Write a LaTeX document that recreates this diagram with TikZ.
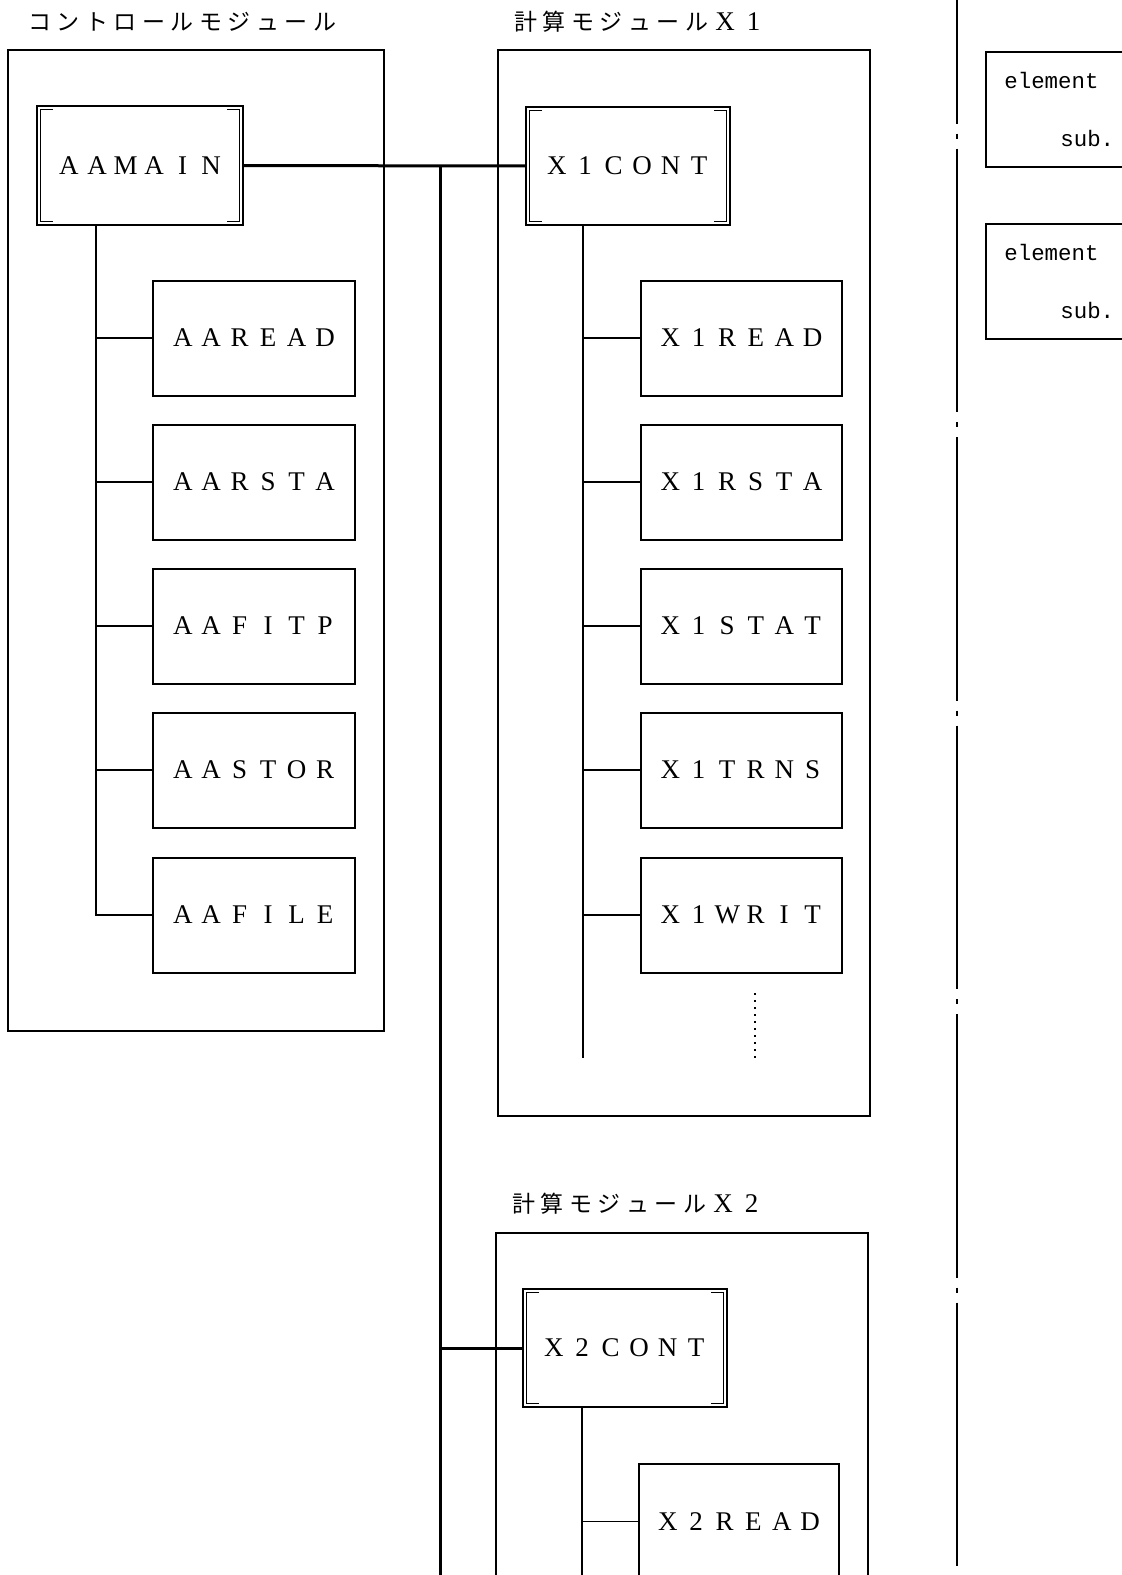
\documentclass[tikz,border=0pt]{standalone}
\usepackage{fontspec}
\setmainfont{Liberation Serif}
\newfontfamily\jpfont{Noto Sans CJK JP}
\newfontfamily\elemfont{Liberation Mono}
\makeatletter
\newcommand\pitchtext[1]{\@tfor\pt@ch:=#1\do{\makebox[14.25pt]{\pt@ch}}}
\makeatother

\begin{document}
\begin{tikzpicture}[x=0.5pt, y=-0.5pt,
    frame/.style={line width=0.8pt},
    tree/.style={line width=0.6pt},
    bus/.style={line width=1.5pt},
    title/.style={anchor=west, inner sep=0pt, font=\jpfont\fontsize{11.5}{13}\selectfont},
    subbox/.style={draw, line width=1pt, inner sep=0pt, minimum width=101pt, minimum height=57.5pt,
        font=\fontsize{13.5}{14}\selectfont},
    ctrlbox/.style={subbox, minimum width=103pt, minimum height=59.5pt,
        path picture={
            \draw[line width=0.6pt]
                ([xshift=8pt,yshift=-1.75pt]path picture bounding box.north west)
                -| ([xshift=1.75pt,yshift=1.75pt]path picture bounding box.south west) -- ++(6.25pt,0);
            \draw[line width=0.6pt]
                ([xshift=-8pt,yshift=-1.75pt]path picture bounding box.north east)
                -| ([xshift=-1.75pt,yshift=1.75pt]path picture bounding box.south east) -- ++(-6.25pt,0);
        }},
    elembox/.style={draw, frame, anchor=north west, minimum width=80pt, minimum height=57.5pt},
    elemtext/.style={anchor=base west, inner sep=0pt, font=\elemfont\fontsize{11.2}{12}\selectfont},
    sepline/.style={line width=1.4pt, dash pattern=on 131.75pt off 5pt on 2.5pt off 5pt, dash phase=70pt}]
    \useasboundingbox (0,0) rectangle (1122,1575);
    \clip (0,0) rectangle (1122,1575);

    % control module
    \node[title] (ctrltitle) at (25,22) {\pitchtext{コントロールモジュール}};
    \draw[frame] (8,50) rectangle (384,1031);
    \node[ctrlbox] (aamain) at (140,165.5) {\pitchtext{AAMAIN}};
    \node[subbox] (aaread) at (254,338) {\pitchtext{AAREAD}};
    \node[subbox] (aarsta) at (254,482) {\pitchtext{AARSTA}};
    \node[subbox] (aafitp) at (254,626) {\pitchtext{AAFITP}};
    \node[subbox] (aastor) at (254,770) {\pitchtext{AASTOR}};
    \node[subbox] (aafile) at (254,915) {\pitchtext{AAFILE}};
    \coordinate (atrunk) at (96,225);
    \draw[tree] (atrunk) |- (aafile);
    \draw[tree] (atrunk |- aaread) -- (aaread);
    \draw[tree] (atrunk |- aarsta) -- (aarsta);
    \draw[tree] (atrunk |- aafitp) -- (aafitp);
    \draw[tree] (atrunk |- aastor) -- (aastor);

    % module X1
    \node[title] (x1title) at (511,22) {\pitchtext{計算モジュール}{\rmfamily\fontsize{13.5}{14}\selectfont\pitchtext{X1}}};
    \draw[frame] (498,50) rectangle (870,1116);
    \node[ctrlbox, minimum width=102pt, minimum height=59pt] (x1cont) at (628,166) {\pitchtext{X1CONT}};
    \node[subbox, minimum width=100.5pt] (x1read) at (741.5,338) {\pitchtext{X1READ}};
    \node[subbox, minimum width=100.5pt] (x1rsta) at (741.5,482) {\pitchtext{X1RSTA}};
    \node[subbox, minimum width=100.5pt] (x1stat) at (741.5,626) {\pitchtext{X1STAT}};
    \node[subbox, minimum width=100.5pt] (x1trns) at (741.5,770) {\pitchtext{X1TRNS}};
    \node[subbox, minimum width=100.5pt] (x1writ) at (741.5,915) {\pitchtext{X1WRIT}};
    \coordinate (x1trunk) at (583,225);
    \coordinate (x1end) at (583,1058);
    \draw[tree] (x1trunk) -- (x1end);
    \draw[tree] (x1trunk |- x1read) -- (x1read);
    \draw[tree] (x1trunk |- x1rsta) -- (x1rsta);
    \draw[tree] (x1trunk |- x1stat) -- (x1stat);
    \draw[tree] (x1trunk |- x1trns) -- (x1trns);
    \draw[tree] (x1trunk |- x1writ) -- (x1writ);
    \coordinate (more1) at (755,993);
    \coordinate (more2) at (755,1058);
    \draw[tree, dash pattern=on 1pt off 2.5pt] (more1) -- (more2);

    % module X2
    \node[title] (x2title) at (509,1204) {\pitchtext{計算モジュール}{\rmfamily\fontsize{13.5}{14}\selectfont\pitchtext{X2}}};
    \draw[frame] (496,1233) rectangle (868,1600);
    \node[ctrlbox, minimum width=102pt, minimum height=59pt] (x2cont) at (625,1348) {\pitchtext{X2CONT}};
    \node[subbox, minimum width=100pt] (x2read) at (739,1521.5) {\pitchtext{X2READ}};
    \coordinate (x2trunk) at (582,1407);
    \coordinate (x2end) at (582,1600);
    \draw[tree] (x2trunk) -- (x2end);
    \draw[tree] (x2trunk |- x2read) -- (x2read);

    % bus between modules
    \draw[bus] (aamain) -- (x1cont);
    \coordinate (busj) at (440,165.5);
    \coordinate (busend) at (440,1600);
    \draw[bus] (busj) -- (busend);
    \draw[bus] (busj |- x2cont) -- (x2cont);

    % legend
    \coordinate (septop) at (957,0);
    \coordinate (sepbot) at (957,1575);
    \draw[sepline] (septop) -- (sepbot);
    \node[elembox] (elem1) at (985,51) {};
    \node[elemtext] (elem1a) at (1004,88) {element};
    \node[elemtext] (elem1b) at (1060,146) {sub.};
    \node[elembox] (elem2) at (985,223) {};
    \node[elemtext] (elem2a) at (1004,260) {element};
    \node[elemtext] (elem2b) at (1060,318) {sub.};
\end{tikzpicture}
\end{document}
